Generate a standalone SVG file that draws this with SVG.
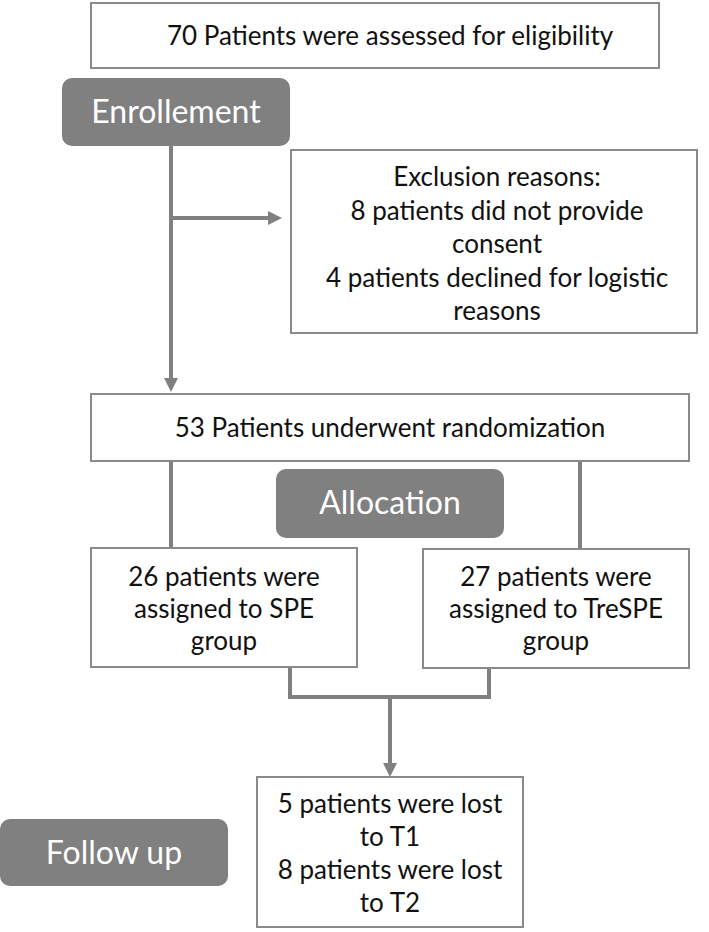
<svg xmlns="http://www.w3.org/2000/svg" width="709" height="932" viewBox="0 0 709 932">
<style>
.box{fill:#ffffff;stroke:#8a8a8a;stroke-width:2}
.hdr{fill:#808080;stroke:none}
.t{font-family:Lato,"Liberation Sans",sans-serif;font-size:26px;fill:#111;text-anchor:middle}
.h{font-family:Lato,"Liberation Sans",sans-serif;font-size:32px;fill:#ffffff;text-anchor:middle}
.c{fill:none;stroke:#808080;stroke-width:4}
</style>
<defs>
<marker id="ah" markerUnits="userSpaceOnUse" markerWidth="14" markerHeight="14" refX="4" refY="7" orient="auto">
<path d="M0,0 L14,7 L0,14 z" fill="#808080"/>
</marker>
</defs>
<rect width="709" height="932" fill="#ffffff"/>
<g id="connectors">
<line class="c" x1="171" y1="146" x2="171" y2="382" marker-end="url(#ah)"/>
<line class="c" x1="171" y1="218" x2="272" y2="218" marker-end="url(#ah)"/>
<line class="c" x1="171" y1="461" x2="171" y2="548"/>
<line class="c" x1="580" y1="461" x2="580" y2="549"/>
<path class="c" d="M290,667 V697 H489 V668"/>
<line class="c" x1="390" y1="697" x2="390" y2="767" marker-end="url(#ah)"/>
</g>
<g id="assessed">
<rect class="box" x="91" y="3" width="568" height="65"/>
<text class="t" x="390" y="45">70 Patients were assessed for eligibility</text>
</g>
<g id="enrollement">
<rect class="hdr" x="62" y="78" width="228" height="68" rx="10"/>
<text class="h" x="176" y="123">Enrollement</text>
</g>
<g id="exclusion">
<rect class="box" x="291" y="150" width="406" height="183"/>
<text class="t" x="497" y="186">Exclusion reasons:</text>
<text class="t" x="497" y="220">8 patients did not provide</text>
<text class="t" x="497" y="253">consent</text>
<text class="t" x="497" y="287">4 patients declined for logistic</text>
<text class="t" x="497" y="320">reasons</text>
</g>
<g id="randomization">
<rect class="box" x="91" y="394" width="598" height="67"/>
<text class="t" x="390" y="437">53 Patients underwent randomization</text>
</g>
<g id="allocation">
<rect class="hdr" x="276" y="469" width="228" height="69" rx="10"/>
<text class="h" x="390" y="514">Allocation</text>
</g>
<g id="spe">
<rect class="box" x="91" y="548" width="266" height="119"/>
<text class="t" x="224" y="586">26 patients were</text>
<text class="t" x="224" y="618">assigned to SPE</text>
<text class="t" x="224" y="650">group</text>
</g>
<g id="trespe">
<rect class="box" x="423" y="549" width="266" height="119"/>
<text class="t" x="556" y="586">27 patients were</text>
<text class="t" x="556" y="618">assigned to TreSPE</text>
<text class="t" x="556" y="650">group</text>
</g>
<g id="followup">
<rect class="hdr" x="0" y="819" width="228" height="67" rx="10"/>
<text class="h" x="114" y="864">Follow up</text>
</g>
<g id="lost">
<rect class="box" x="257" y="777" width="266" height="150"/>
<text class="t" x="390" y="813">5 patients were lost</text>
<text class="t" x="390" y="846">to T1</text>
<text class="t" x="390" y="879">8 patients were lost</text>
<text class="t" x="390" y="912">to T2</text>
</g>
</svg>
